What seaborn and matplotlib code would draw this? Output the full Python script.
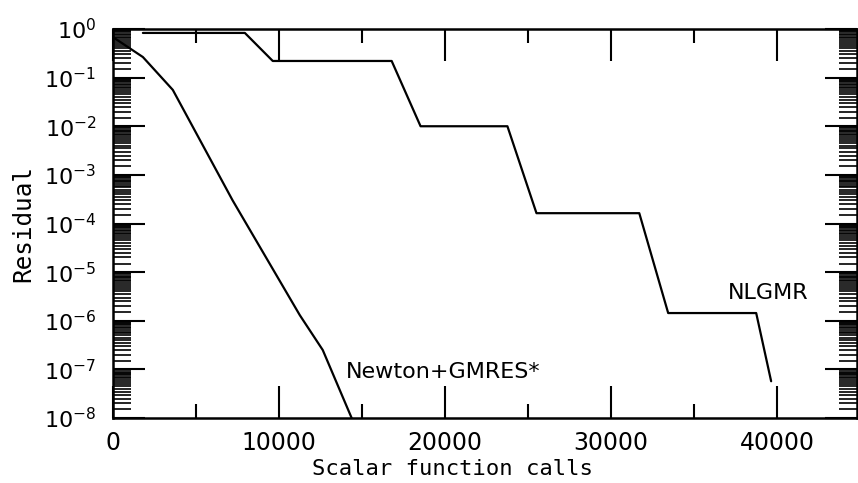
import numpy as np
import pandas as pd
import matplotlib
matplotlib.use("Agg")
import matplotlib.pyplot as plt
import matplotlib.ticker as mticker
import seaborn as sns

# Data
newton_calls = [0, 1800, 3600, 7200, 11250, 12630, 14370]
newton_resid = [0.68, 0.265, 0.056, 3.0e-4, 1.3e-6, 2.5e-7, 1.0e-8]

nlgmr_calls = [1800, 7940, 9620, 16780, 18520, 23750, 25500, 31690, 33430, 38730, 39630]
nlgmr_resid = [0.83, 0.83, 0.22, 0.22, 0.01, 0.01, 1.63e-4, 1.63e-4, 1.44e-6, 1.44e-6, 5.7e-8]

x_ticks = [0, 10000, 20000, 30000, 40000]
x_tick_labels = ["0", "10000", "20000", "30000", "40000"]

sns.set_theme(style="white")
plt.rcParams['font.family'] = ['DejaVu Sans']

df_newton = pd.DataFrame({"calls": newton_calls, "resid": newton_resid})
df_nlgmr = pd.DataFrame({"calls": nlgmr_calls, "resid": nlgmr_resid})

fig = plt.figure(figsize=(8.58, 4.83), dpi=100)
ax = fig.add_axes([113/858, 65/483, (857-113)/858, (418-29)/483])

sns.lineplot(data=df_newton, x="calls", y="resid", ax=ax, color="black",
             linewidth=1.6, estimator=None, sort=False)
sns.lineplot(data=df_nlgmr, x="calls", y="resid", ax=ax, color="black",
             linewidth=1.6, estimator=None, sort=False)

ax.set_yscale("log")
ax.set_ylim(1e-8, 1)
ax.set_xlim(0, 44800)

ax.set_xticks(x_ticks)
ax.set_xticklabels(x_tick_labels)
ax.xaxis.set_minor_locator(mticker.MultipleLocator(5000))
ax.yaxis.set_major_locator(mticker.LogLocator(base=10, numticks=20))
ax.yaxis.set_minor_locator(mticker.LogLocator(base=10, subs=np.arange(1.5, 10, 0.5), numticks=200))
ax.yaxis.set_minor_formatter(mticker.NullFormatter())

ax.tick_params(which="both", direction="in", top=True, right=True, left=True, bottom=True,
               color="black", width=1.5)
ax.tick_params(which="major", length=23, labelsize=16, pad=12, labelcolor="black")
ax.tick_params(axis="x", which="major", labelsize=17, pad=9)
ax.tick_params(axis="y", which="minor", length=13, width=1.2)
ax.tick_params(axis="x", which="minor", length=10)

for s in ax.spines.values():
    s.set_color("black")
    s.set_linewidth(1.8)

ax.set_xlabel("Scalar function calls", fontsize=16, family="DejaVu Sans Mono", color="black")
ax.xaxis.set_label_coords(0.456, -0.105)
ax.set_ylabel("Residual", fontsize=17.5, family="DejaVu Sans Mono", color="black")
ax.yaxis.set_label_coords(-0.105, 0.5)

ax.text(14000, 8.7e-8, "Newton+GMRES*", fontsize=16, color="black", ha="left", va="center")
ax.text(37000, 3.7e-6, "NLGMR", fontsize=16, color="black", ha="left", va="center")

fig.savefig("out.png", dpi=100)
